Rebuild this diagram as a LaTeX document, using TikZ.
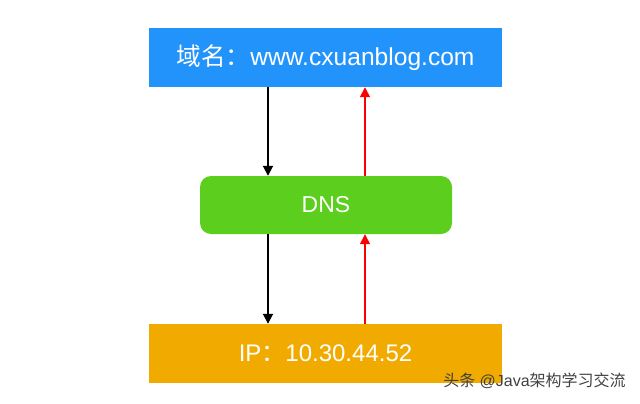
\documentclass[tikz,border=0pt]{standalone}
\usepackage{fontspec}
\setmainfont{Liberation Sans}
\newfontfamily\cjk{Noto Sans CJK SC}
\usetikzlibrary{arrows.meta,positioning}
\definecolor{boxblue}{RGB}{33,147,250}
\definecolor{boxgreen}{RGB}{91,206,30}
\definecolor{boxorange}{RGB}{241,170,0}
\tikzset{box/.style={rectangle, inner sep=0pt, text=white, font=\fontsize{24}{28}\selectfont},
  lookup/.style={black, line width=1.8pt, -{Triangle[length=10pt,width=10pt]}},
  answer/.style={red, line width=1.5pt, -{Triangle[length=10pt,width=10pt]}}}

\begin{document}
\begin{tikzpicture}[x=1pt,y=-1pt]
   \useasboundingbox (0,0) rectangle (640,404);
   \node[box, fill=boxblue, minimum width=353pt, minimum height=59pt, font=\fontsize{24.6}{28}\selectfont] (domain) at (325.5,57.5) {{\cjk 域名：}www.cxuanblog.com};
   \node[box, fill=boxgreen, rounded corners=11pt, minimum width=252pt, minimum height=58pt, font=\fontsize{23}{27}\selectfont] (dns) at (326,205) {DNS};
   \node[box, fill=boxorange, minimum width=353pt, minimum height=59pt] (ip) at (325.5,353.5) {IP{\cjk ：}10.30.44.52};
   % query goes down, answer comes back up
   \draw[lookup] ([xshift=-57.5pt]domain.south) -- ([xshift=-57.5pt]domain.south |- dns.north);
   \draw[lookup] ([xshift=-58pt]dns.south) -- ([xshift=-58pt]dns.south |- ip.north);
   \draw[answer] ([xshift=39.5pt]ip.north) -- ([xshift=39.5pt]ip.north |- dns.south);
   \draw[answer] ([xshift=39pt]dns.north) -- ([xshift=39pt]dns.north |- domain.south);
   \node[text=black!75, inner sep=0pt, font=\fontsize{16}{18}\selectfont] (mark) at (534.5,380.5) {{\cjk 头条} @Java{\cjk 架构学习交流}};
\end{tikzpicture}
\end{document}
